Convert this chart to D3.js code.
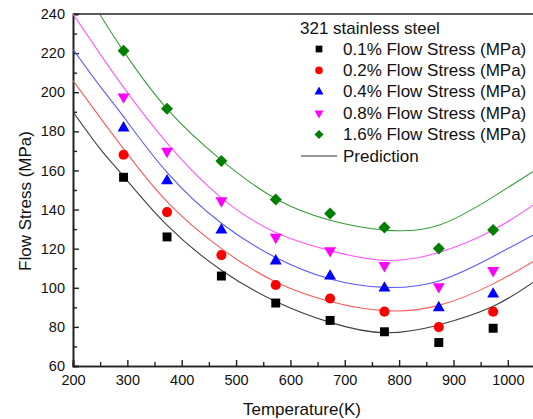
<!DOCTYPE html>
<html>
<head>
<meta charset="utf-8">
<script src="https://cdn.jsdelivr.net/npm/d3@7"></script>
<style>
  body { margin: 0; background: #fff; }
  svg { display: block; font-family: "Liberation Sans", Arial, sans-serif; }
</style>
</head>
<body>
<svg id="chart" width="533" height="419"></svg>
<script>
// measured temperatures (K)
var tempData = [293, 373, 473, 573, 673, 773, 873, 973];

// measured flow stress (MPa)
var stress01 = [156.5, 126, 106, 92.2, 83.3, 77.5, 72, 79.3];
var stress02 = [168, 138.7, 116.7, 101.4, 94.5, 87.8, 79.9, 87.8];
var stress04 = [181.7, 154.7, 129.5, 113.7, 106, 99.8, 89.8, 96.8];
var stress08 = [197.6, 169.8, 144.5, 125.8, 119, 111.4, 100.6, 108.8];
var stress16 = [221.2, 191.5, 164.8, 145.2, 138, 130.8, 120.1, 129.6];

// prediction curves
var predT = [200, 250, 293, 373, 473, 573, 673, 773, 873, 973, 1050];
var pred01 = [190, 171, 157, 132, 109, 93, 82.3, 77, 81, 90.5, 103.5];
var pred02 = [206, 187, 171, 144, 120, 103, 93, 88.3, 91, 102, 114];
var pred04 = [222, 203, 187.5, 159, 133, 115.5, 104.5, 100.2, 103.5, 116, 127.5];
var pred08 = [240, 219.5, 202.5, 174, 146, 128.3, 119, 114, 118, 129.5, 143];
var pred16 = [null, 239.5, 221, 191.5, 165.3, 145.5, 134.5, 129.5, 132, 146.5, 160];

var seriesNames = ['0.1% Flow Stress (MPa)', '0.2% Flow Stress (MPa)', '0.4% Flow Stress (MPa)',
    '0.8% Flow Stress (MPa)', '1.6% Flow Stress (MPa)'];
var xTicks = [200, 300, 400, 500, 600, 700, 800, 900, 1000];
var yTicks = [60, 80, 100, 120, 140, 160, 180, 200, 220, 240];

var series = [
    { name: seriesNames[0], pts: stress01, pred: pred01, fill: '#000000', line: '#404040', sym: 'square' },
    { name: seriesNames[1], pts: stress02, pred: pred02, fill: '#ff0000', line: '#ff5a5a', sym: 'circle' },
    { name: seriesNames[2], pts: stress04, pred: pred04, fill: '#0000ff', line: '#5a5aff', sym: 'up' },
    { name: seriesNames[3], pts: stress08, pred: pred08, fill: '#ff00ff', line: '#ff5aff', sym: 'down' },
    { name: seriesNames[4], pts: stress16, pred: pred16, fill: '#008000', line: '#3c9c3c', sym: 'diamond' }
];

var plotLeft = 73, plotRight = 535, plotTop = 14, plotBottom = 366;

var svg = d3.select('#chart');

var x = d3.scaleLinear().domain([200, 1050]).range([plotLeft, plotRight]);
var y = d3.scaleLinear().domain([60, 240]).range([plotBottom, plotTop]);

svg.append('clipPath')
    .attr('id', 'plotClip')
    .append('rect')
    .attr('x', plotLeft)
    .attr('y', plotTop)
    .attr('width', plotRight - plotLeft)
    .attr('height', plotBottom - plotTop);

// minor ticks first, majors on top
var xAxisMinor = d3.axisBottom(x).tickValues(d3.range(250, 1050, 100)).tickSize(-4).tickFormat('');
var yAxisMinor = d3.axisLeft(y).tickValues(d3.range(70, 240, 20)).tickSize(-4).tickFormat('');
var xAxis = d3.axisBottom(x).tickValues(xTicks).tickSize(-6).tickPadding(9).tickFormat(d3.format('d'));
var yAxis = d3.axisLeft(y).tickValues(yTicks).tickSize(-6).tickPadding(8).tickFormat(d3.format('d'));

function styleAxis(g) {
    g.select('.domain').attr('stroke', '#222').attr('stroke-width', 1.6);
    g.selectAll('.tick line').attr('stroke', '#222').attr('stroke-width', 1.4);
    g.selectAll('.tick text').attr('fill', '#111').style('font-size', '14.5px')
        .style('font-family', '"Liberation Sans", Arial, sans-serif');
}

svg.append('g').attr('transform', 'translate(0,' + plotBottom + ')').call(xAxisMinor).call(styleAxis);
svg.append('g').attr('transform', 'translate(' + plotLeft + ',0)').call(yAxisMinor).call(styleAxis);
svg.append('g').attr('transform', 'translate(0,' + plotBottom + ')').call(xAxis).call(styleAxis);
svg.append('g').attr('transform', 'translate(' + plotLeft + ',0)').call(yAxis).call(styleAxis);

// top frame line
svg.append('line')
    .attr('x1', plotLeft).attr('x2', plotRight)
    .attr('y1', plotTop).attr('y2', plotTop)
    .attr('stroke', '#222')
    .attr('stroke-width', 1.6);

// axis titles
svg.append('text')
    .attr('x', 302)
    .attr('y', 409)
    .attr('text-anchor', 'middle')
    .attr('dominant-baseline', 'central')
    .style('font-size', '17px')
    .attr('fill', '#111')
    .text('Temperature(K)');

svg.append('text')
    .attr('transform', 'translate(25,201) rotate(-90)')
    .attr('text-anchor', 'middle')
    .attr('dominant-baseline', 'central')
    .style('font-size', '17px')
    .attr('fill', '#111')
    .text('Flow Stress (MPa)');

// prediction curves
var line = d3.line()
    .x(function(d) { return x(d[0]); })
    .y(function(d) { return y(d[1]); })
    .curve(d3.curveNatural);

var curves = svg.append('g').attr('clip-path', 'url(#plotClip)');

curves.selectAll('path')
    .data(series)
    .enter()
    .append('path')
    .attr('fill', 'none')
    .attr('stroke', function(d) { return d.line; })
    .attr('stroke-width', 1.1)
    .attr('d', function(d) {
        var pts = predT.map(function(t, i) { return [t, d.pred[i]]; })
            .filter(function(p) { return p[1] != null; });
        return line(pts);
    });

// marker shapes
function symbolPath(sym, scale) {
    var s = scale || 1;
    if (sym === 'square') return d3.symbol(d3.symbolSquare, 80 * s * s)();
    if (sym === 'circle') return d3.symbol(d3.symbolCircle, 80 * s * s)();
    if (sym === 'diamond') return d3.symbol(d3.symbolSquare, 72 * s * s)();
    return d3.symbol(d3.symbolTriangle, 62 * s * s)();
}

function symbolRotate(sym) {
    if (sym === 'down') return ' rotate(180)';
    if (sym === 'diamond') return ' rotate(45)';
    return '';
}

series.forEach(function(s) {
    svg.append('g')
        .selectAll('path')
        .data(tempData.map(function(t, i) { return [t, s.pts[i]]; }))
        .enter()
        .append('path')
        .attr('d', symbolPath(s.sym))
        .attr('fill', s.fill)
        .attr('transform', function(d) {
            return 'translate(' + x(d[0]) + ',' + y(d[1]) + ')' + symbolRotate(s.sym);
        });
});

// legend
var legend = svg.append('g');

legend.append('text')
    .attr('x', 300)
    .attr('y', 28)
    .attr('dominant-baseline', 'central')
    .style('font-size', '17px')
    .attr('fill', '#111')
    .text('321 stainless steel');

series.forEach(function(s, i) {
    var ly = 49 + i * 21.4;
    legend.append('path')
        .attr('d', symbolPath(s.sym, 0.75))
        .attr('fill', s.fill)
        .attr('transform', 'translate(319,' + ly + ')' + symbolRotate(s.sym));
    legend.append('text')
        .attr('x', 343)
        .attr('y', ly)
        .attr('dominant-baseline', 'central')
        .style('font-size', '17px')
        .attr('fill', '#111')
        .text(s.name);
});

legend.append('line')
    .attr('x1', 301).attr('x2', 337)
    .attr('y1', 156).attr('y2', 156)
    .attr('stroke', '#333')
    .attr('stroke-width', 1.1);

legend.append('text')
    .attr('x', 343)
    .attr('y', 156)
    .attr('dominant-baseline', 'central')
    .style('font-size', '17px')
    .attr('fill', '#111')
    .text('Prediction');
</script>
</body>
</html>
